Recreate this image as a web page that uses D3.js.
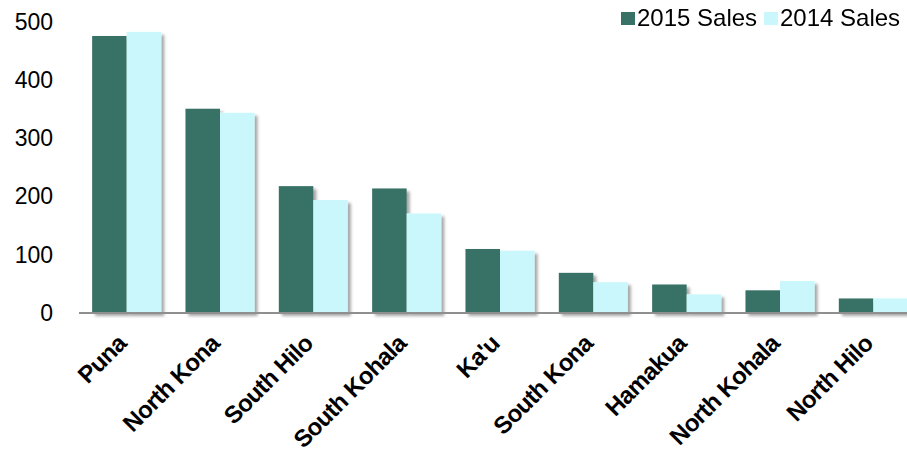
<!DOCTYPE html>
<html>
<head>
<meta charset="utf-8">
<script src="https://cdn.jsdelivr.net/npm/d3@7"></script>
<style>
  body { margin: 0; background: #fff; }
  svg { display: block; font-family: "Liberation Sans", Arial, sans-serif; }
</style>
</head>
<body>
<div id="chart"></div>
<script>
const districts = ["Puna", "North Kona", "South Hilo", "South Kohala", "Ka'u", "South Kona", "Hamakua", "North Kohala", "North Hilo"];
const sales2015 = [476, 351, 218, 214, 110, 69, 49, 39, 25];
const sales2014 = [483, 344, 194, 171, 107, 53, 32, 55, 25];
const seriesNames = ["2015 Sales", "2014 Sales"];
const yTicks = [0, 100, 200, 300, 400, 500];

const colors = { "2015 Sales": "#387266", "2014 Sales": "#c9f7fb" };

const width = 907, height = 450;
const margin = { left: 80, right: -13, top: 22, bottom: 137 };

const svg = d3.select("#chart").append("svg")
    .attr("width", width)
    .attr("height", height);

// soft drop shadow like the original office chart
const defs = svg.append("defs");
const shadow = defs.append("filter").attr("id", "shadow")
    .attr("x", "-20%").attr("y", "-20%").attr("width", "150%").attr("height", "150%");
shadow.append("feDropShadow")
    .attr("dx", 3).attr("dy", 3).attr("stdDeviation", 1.8)
    .attr("flood-color", "#000").attr("flood-opacity", 0.35);

const rows = districts.map((d, i) => ({ name: d, "2015 Sales": sales2015[i], "2014 Sales": sales2014[i] }));

const xScale = d3.scaleBand()
    .domain(districts)
    .range([margin.left, width - margin.right])
    .paddingInner(0.26)
    .paddingOuter(0.13);

const xSub = d3.scaleBand()
    .domain(seriesNames)
    .range([0, xScale.bandwidth()]);

const yScale = d3.scaleLinear()
    .domain([0, 500])
    .range([height - margin.bottom, margin.top]);

// y axis labels only
const yAxis = svg.append("g")
    .attr("transform", `translate(${margin.left}, 0)`)
    .call(d3.axisLeft(yScale).tickValues(yTicks).tickSize(0).tickPadding(27));
yAxis.select(".domain").remove();
yAxis.selectAll("text")
    .attr("font-size", 23)
    .attr("font-family", "Liberation Sans, Arial, sans-serif")
    .attr("fill", "#000");

// bars
const bars = svg.append("g").attr("filter", "url(#shadow)");
const groups = bars.selectAll("g.cat")
    .data(rows)
    .join("g")
    .attr("class", "cat")
    .attr("transform", d => `translate(${xScale(d.name)}, 0)`);

groups.selectAll("rect")
    .data(d => seriesNames.map(s => ({ key: s, value: d[s] })))
    .join("rect")
    .attr("x", d => xSub(d.key))
    .attr("y", d => yScale(d.value))
    .attr("width", xSub.bandwidth())
    .attr("height", d => yScale(0) - yScale(d.value))
    .attr("fill", d => colors[d.key]);

// x axis: baseline + rotated labels
const xAxis = svg.append("g")
    .attr("transform", `translate(0, ${yScale(0)})`)
    .call(d3.axisBottom(xScale).tickSize(0).tickPadding(0));
xAxis.select(".domain")
    .attr("d", `M${margin.left - 1},0H${width}`)
    .attr("stroke", "#8f8f8f")
    .attr("stroke-width", 2);
xAxis.selectAll("text")
    .attr("font-size", 24)
    .attr("font-weight", "bold")
    .attr("font-family", "Liberation Sans, Arial, sans-serif")
    .attr("letter-spacing", -0.6)
    .attr("fill", "#000")
    .attr("y", 0)
    .attr("dy", 0)
    .attr("text-anchor", "end")
    .attr("transform", "translate(1, 32) rotate(-45)");

// legend
const legend = svg.append("g").attr("transform", "translate(621, 0)");
const legendX = [0, 143];
seriesNames.forEach((s, i) => {
    const item = legend.append("g").attr("transform", `translate(${legendX[i]}, 0)`);
    item.append("rect")
        .attr("x", 0).attr("y", 12)
        .attr("width", 14).attr("height", 13)
        .attr("fill", colors[s]);
    item.append("text")
        .attr("x", 16).attr("y", 26)
        .attr("font-size", 24)
        .attr("fill", "#000")
        .text(s);
});
</script>
</body>
</html>
